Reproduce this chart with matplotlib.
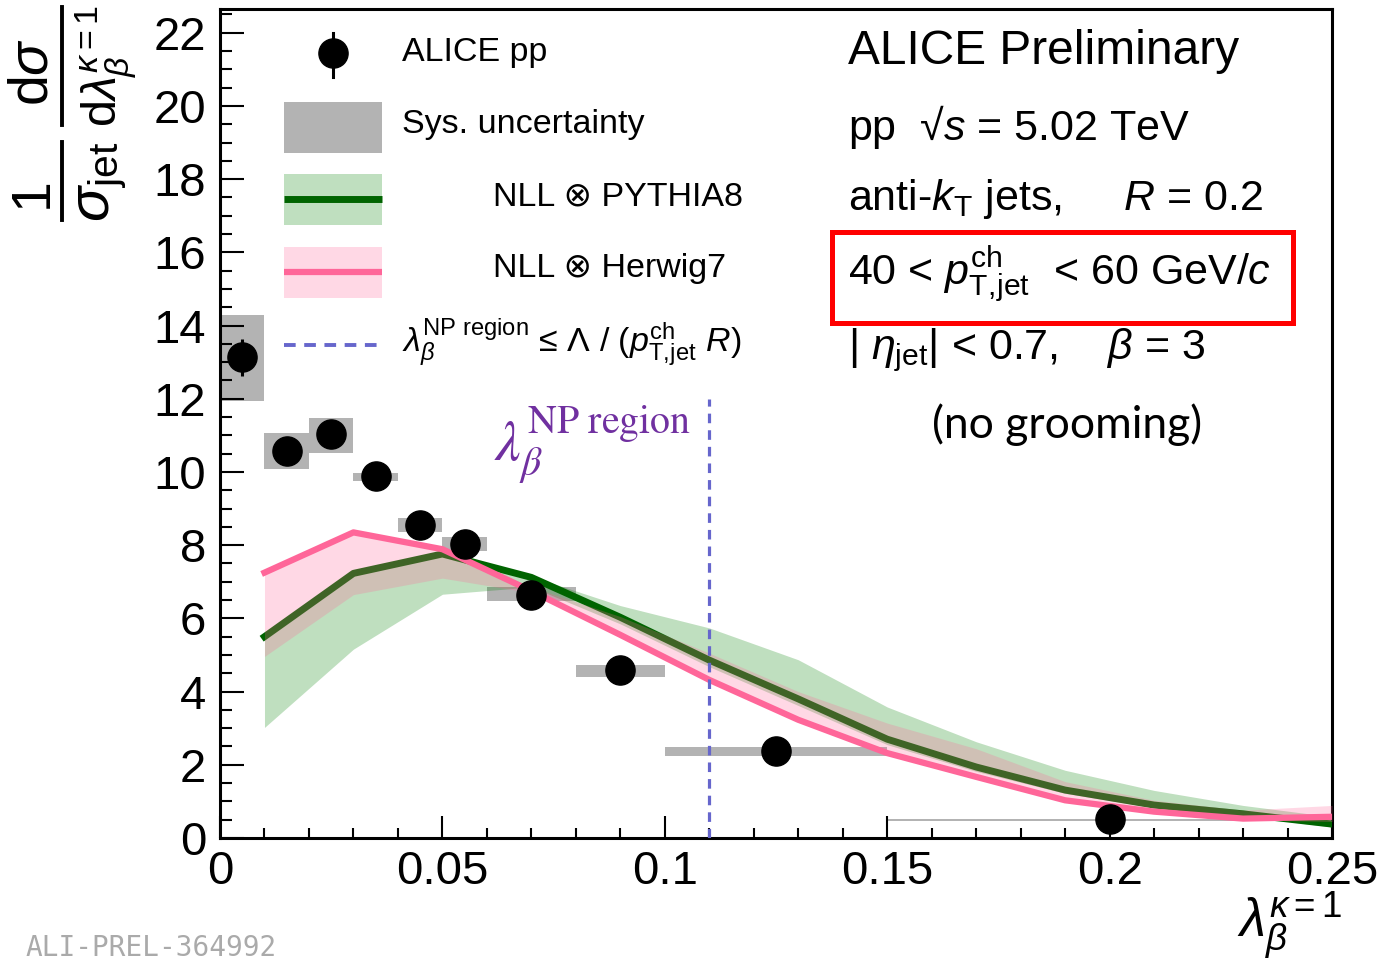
import numpy as np
import matplotlib.pyplot as plt
from matplotlib.patches import Rectangle
from matplotlib.lines import Line2D
from matplotlib.transforms import Affine2D
from matplotlib.ticker import MultipleLocator

plt.rcParams['font.family'] = ['Liberation Sans', 'DejaVu Sans']
plt.rcParams['mathtext.fontset'] = 'custom'
plt.rcParams['mathtext.rm'] = 'Liberation Sans'
plt.rcParams['mathtext.it'] = 'Liberation Sans:italic'
plt.rcParams['mathtext.bf'] = 'Liberation Sans:bold'

# ALICE pp, 40 < pT < 60 GeV/c, R = 0.2, beta = 3 (no grooming)
bin_lo = [0.00, 0.01, 0.02, 0.03, 0.04, 0.05, 0.06, 0.08, 0.10, 0.15]
bin_hi = [0.01, 0.02, 0.03, 0.04, 0.05, 0.06, 0.08, 0.10, 0.15, 0.25]
data_y = [13.13, 10.56, 11.03, 9.88, 8.55, 8.02, 6.64, 4.59, 2.38, 0.53]
stat_err = [0.50, 0.15, 0.15, 0.10, 0.10, 0.10, 0.10, 0.10, 0.05, 0.02]
sys_lo = [11.93, 10.07, 10.53, 9.75, 8.36, 7.84, 6.48, 4.41, 2.23, 0.46]
sys_hi = [14.30, 11.06, 11.48, 9.97, 8.74, 8.22, 6.86, 4.73, 2.48, 0.53]

# NLL calculations folded with MC non-perturbative corrections
theory_x = [0.01, 0.03, 0.05, 0.07, 0.09, 0.11, 0.13, 0.15, 0.17, 0.19, 0.21, 0.23, 0.25]
pythia_c = [5.50, 7.23, 7.76, 7.12, 6.03, 4.86, 3.80, 2.70, 1.94, 1.31, 0.90, 0.66, 0.38]
pythia_lo = [3.02, 5.16, 6.66, 6.86, 5.85, 4.68, 3.62, 2.55, 1.82, 1.22, 0.83, 0.60, 0.30]
pythia_hi = [5.50, 7.23, 7.76, 7.15, 6.35, 5.74, 4.87, 3.58, 2.63, 1.85, 1.30, 0.89, 0.58]
herwig_c = [7.25, 8.35, 7.89, 6.75, 5.55, 4.32, 3.23, 2.32, 1.67, 1.03, 0.72, 0.53, 0.58]
herwig_lo = [4.96, 6.65, 7.10, 6.70, 5.50, 4.28, 3.18, 2.28, 1.62, 0.98, 0.68, 0.50, 0.45]
herwig_hi = [7.25, 8.35, 7.89, 6.86, 6.05, 5.05, 4.00, 3.14, 2.44, 1.54, 1.03, 0.76, 0.89]

np_limit = 0.110
np_line_top = 12.0

W, H = 1380, 967
fig = plt.figure(figsize=(W / 100, H / 100), dpi=100)
ax = fig.add_axes([220 / W, 1 - 838 / H, 1112 / W, 829 / H])
# pixel coordinates for the legend and labels
pix = Affine2D().scale(1 / W, -1 / H).translate(0, 1) + fig.transFigure

grey = '#b3b3b3'
green_line = '#006400'
pink_line = '#ff6699'
np_col = '#6666cc'

for lo, hi, ylo, yhi in zip(bin_lo, bin_hi, sys_lo, sys_hi):
    ax.add_patch(Rectangle((lo, ylo), hi - lo, yhi - ylo, facecolor=grey,
                           edgecolor='none', zorder=1))

ax.fill_between(theory_x, pythia_lo, pythia_hi, color=(0, 0.5, 0), alpha=0.25,
                lw=0, zorder=2)
ax.plot(theory_x, pythia_c, color=green_line, lw=5, zorder=3)
ax.fill_between(theory_x, herwig_lo, herwig_hi, color=(1, 0.4, 0.6), alpha=0.25,
                lw=0, zorder=4)
ax.plot(theory_x, herwig_c, color=pink_line, lw=4.5, zorder=5)

ax.plot([np_limit, np_limit], [0, np_line_top], color=np_col, lw=2.3,
        dashes=(3, 2.2), zorder=6)

centers = [(a + b) / 2 for a, b in zip(bin_lo, bin_hi)]
ax.errorbar(centers, data_y, yerr=stat_err, fmt='o', color='black', ms=21,
            elinewidth=2.2, capsize=0, zorder=7)

ax.text(0.0615, 10.3, r'$\lambda_{\beta}^{\mathrm{NP\ region}}$', color='#7030a0',
        fontsize=41, math_fontfamily='stix', zorder=8)

ax.set_xlim(0, 0.25)
ax.set_ylim(0, 22.65)
ax.set_xticks([0, 0.05, 0.1, 0.15, 0.2, 0.25])
ax.set_xticklabels(['0', '0.05', '0.1', '0.15', '0.2', '0.25'])
ax.set_yticks(np.arange(0, 23, 2))
ax.xaxis.set_minor_locator(MultipleLocator(0.01))
ax.yaxis.set_minor_locator(MultipleLocator(0.5))
ax.tick_params(which='both', direction='in', width=1.5, labelsize=34)
ax.tick_params(axis='y', which='major', length=17, pad=10)
ax.tick_params(axis='y', which='minor', length=8.5)
ax.tick_params(axis='x', which='major', length=16, pad=9)
ax.tick_params(axis='x', which='minor', length=7.5)
for s in ax.spines.values():
    s.set_linewidth(2.2)

# y title: 1/sigma_jet  dsigma/dlambda, built from pieces so the glyphs stay large
fig.add_artist(Line2D([62, 62], [142, 220], color='black', lw=2.8, transform=pix))
fig.add_artist(Line2D([62, 62], [7, 125], color='black', lw=2.8, transform=pix))
fig.text(33, 193, '1', transform=pix, rotation=90, ha='center', va='center',
         fontsize=40)
fig.text(101, 182, r'$\sigma_{\mathrm{jet}}$', transform=pix, rotation=90,
         ha='center', va='center', fontsize=42)
fig.text(34, 72, r'd$\sigma$', transform=pix, rotation=90, ha='center',
         va='center', fontsize=40)
fig.text(106, 66, r'd$\lambda_{\beta}^{\kappa=1}$', transform=pix, rotation=90,
         ha='center', va='center', fontsize=35)

fig.text(1290, 926, r'$\lambda_{\beta}^{\kappa=1}$', transform=pix,
         ha='center', va='center', fontsize=38)
fig.text(25, 948, 'ALI-PREL-364992', transform=pix, ha='left', va='center',
         fontsize=20, color='#aaaaaa', family='DejaVu Sans Mono')

# legend
fig.add_artist(Line2D([333, 333], [33, 77], color='black', lw=2.2, transform=pix))
fig.add_artist(Line2D([333], [53], marker='o', ms=21, color='black', transform=pix))
fig.add_artist(Rectangle((284, 102), 98, 51, facecolor=grey, edgecolor='none',
                         transform=pix))
fig.add_artist(Rectangle((284, 174), 98, 51, facecolor=(0, 0.5, 0), alpha=0.25,
                         edgecolor='none', transform=pix))
fig.add_artist(Line2D([284, 382], [199, 199], color=green_line, lw=5,
                      solid_capstyle='butt', transform=pix))
fig.add_artist(Rectangle((284, 247), 98, 51, facecolor=(1, 0.4, 0.6), alpha=0.25,
                         edgecolor='none', transform=pix))
fig.add_artist(Line2D([284, 382], [272, 272], color=pink_line, lw=4.5,
                      solid_capstyle='butt', transform=pix))
fig.add_artist(Line2D([284, 382], [345, 345], color=np_col, lw=2.8,
                      dashes=(3, 2.2), transform=pix))

leg_fs = 24.5
fig.text(402, 53, 'ALICE pp', transform=pix, va='center', fontsize=leg_fs)
fig.text(402, 124, 'Sys. uncertainty', transform=pix, va='center', fontsize=leg_fs)
fig.text(493, 197, 'NLL ⊗ PYTHIA8', transform=pix, va='center', fontsize=leg_fs)
fig.text(493, 269, 'NLL ⊗ Herwig7', transform=pix, va='center', fontsize=leg_fs)
fig.text(402, 343, r'$\lambda_{\beta}^{\mathrm{NP\ region}}$ ≤ Λ / ($p_{\mathrm{T,\!jet}}^{\mathrm{ch}}$ $R$)',
         transform=pix, va='center', fontsize=leg_fs)

# collision system and selection
info_fs = 31
fig.text(848, 52, 'ALICE Preliminary', transform=pix, va='center', fontsize=34.5)
fig.text(848, 127, 'pp  √$s$ = 5.02 TeV', transform=pix, va='center', fontsize=info_fs)
fig.text(848, 199, r'anti-$k_{\mathrm{T}}$ jets,     $R$ = 0.2', transform=pix,
         va='center', fontsize=info_fs)
fig.text(848, 274, r'40 < $p_{\mathrm{T,\!jet}}^{\mathrm{ch}}$  < 60 GeV/$c$',
         transform=pix, va='center', fontsize=info_fs)
fig.text(848, 350, r'| $\eta_{\mathrm{jet}}$| < 0.7,    $\beta$ = 3', transform=pix,
         va='center', fontsize=info_fs)
fig.text(1067, 425, '(no grooming)', transform=pix, ha='center', va='center',
         fontsize=32, family=['Lato', 'DejaVu Sans'])
fig.add_artist(Rectangle((832, 232), 461, 91, facecolor='none', edgecolor='red',
                         lw=3.6, transform=pix))

fig.savefig('out.png', dpi=100)
